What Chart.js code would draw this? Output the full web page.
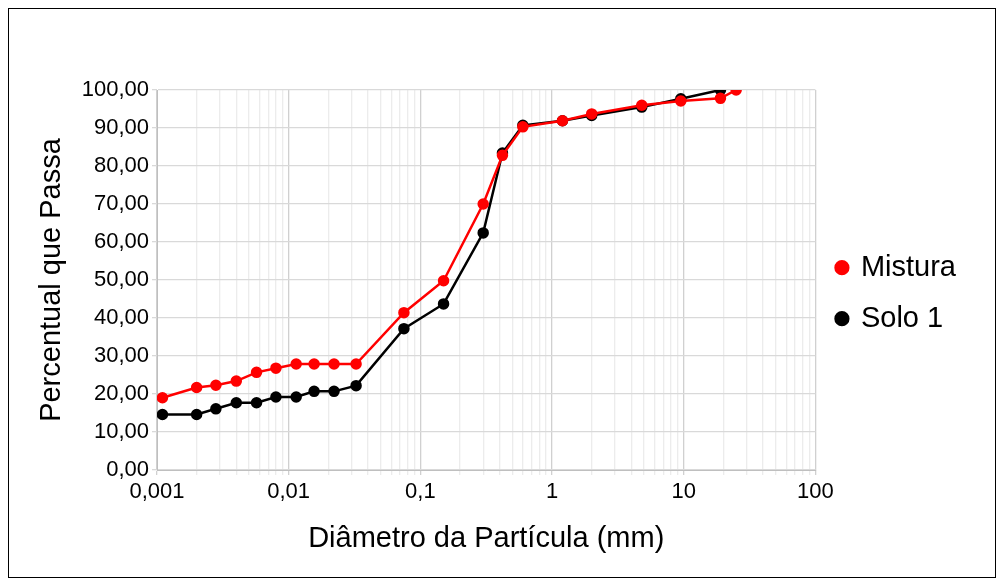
<!DOCTYPE html><html><head><meta charset="utf-8">
<script src="https://cdn.jsdelivr.net/npm/chart.js@4/dist/chart.umd.min.js"></script>
<style>body{margin:0;background:#fff}#box{position:absolute;left:8px;top:8px;width:988px;height:570px;border:1px solid #000;box-sizing:border-box}canvas{display:block}</style>
</head><body><div id="box"><canvas id="c" width="986" height="568"></canvas></div>
<script>
const diamMistura=[0.0011,0.002,0.0028,0.004,0.0057,0.008,0.0114,0.0156,0.0221,0.0325,0.075,0.15,0.3,0.42,0.6,1.2,2,4.8,9.5,19,25];
const mistura=[19.0,21.7,22.3,23.4,25.7,26.8,27.9,27.9,27.9,27.9,41.4,49.8,70.0,82.8,90.3,91.9,93.7,96.0,97.1,97.8,100];
const diamSolo=[0.0011,0.002,0.0028,0.004,0.0057,0.008,0.0114,0.0156,0.0221,0.0325,0.075,0.15,0.3,0.42,0.6,1.2,2,4.8,9.5,19];
const solo=[14.6,14.6,16.1,17.7,17.7,19.2,19.2,20.7,20.7,22.2,37.2,43.7,62.4,83.4,90.7,91.9,93.3,95.5,97.7,100];
const xTickLabels={0.001:'0,001',0.01:'0,01',0.1:'0,1',1:'1',10:'10',100:'100'};
const pts=(xs,ys)=>xs.map((x,i)=>({x,y:ys[i]}));
const isMajor=v=>Math.abs(Math.log10(v)-Math.round(Math.log10(v)))<1e-6;
const F='Arial, Liberation Sans';
new Chart(document.getElementById('c'),{type:'scatter',
data:{datasets:[
{label:'Mistura',data:pts(diamMistura,mistura),showLine:true,borderColor:'#ff0000',backgroundColor:'#ff0000',borderWidth:2.5,pointRadius:4.5,order:1},
{label:'Solo 1',data:pts(diamSolo,solo),showLine:true,borderColor:'#000',backgroundColor:'#000',borderWidth:2.5,pointRadius:4.5,order:2}]},
options:{responsive:false,animation:false,devicePixelRatio:1,
layout:{padding:{left:22,top:81,right:29,bottom:17}},
plugins:{legend:{position:'right',align:'start',title:{display:true,text:' ',font:{size:1},padding:{top:140,bottom:0}},labels:{usePointStyle:true,pointStyle:'circle',boxWidth:9,boxHeight:9,padding:22,color:'#000',font:{family:F,size:29}}},tooltip:{enabled:false}},
scales:{
x:{type:'logarithmic',min:0.001,max:100,afterFit:s=>{s.height=90;},
 afterBuildTicks:s=>{const t=[];for(let e=-3;e<2;e++)for(let m=1;m<10;m++)t.push({value:m*Math.pow(10,e)});t.push({value:100});s.ticks=t;},
 ticks:{autoSkip:false,maxRotation:0,color:'#000',padding:4,font:{family:F,size:22},callback:v=>{for(const k in xTickLabels){if(Math.abs(v-k)/k<1e-6)return xTickLabels[k];}return '';}},
 grid:{color:c=>isMajor(c.tick.value)?'#d0d0d0':'#ececec',lineWidth:1.3,tickLength:5},border:{color:'#bfbfbf'},
 title:{display:true,text:'Diâmetro da Partícula (mm)',color:'#000',font:{family:F,size:29},padding:{top:10}}},
y:{min:0,max:100,afterFit:s=>{s.width=126;},ticks:{stepSize:10,color:'#000',font:{family:F,size:22},callback:v=>v.toFixed(2).replace('.',',')},
 grid:{color:'#d9d9d9',lineWidth:1.3,tickLength:5},border:{color:'#bfbfbf'},
 title:{display:true,text:'Percentual que Passa',color:'#000',font:{family:F,size:29},padding:{bottom:0}}}}}});
</script></body></html>
